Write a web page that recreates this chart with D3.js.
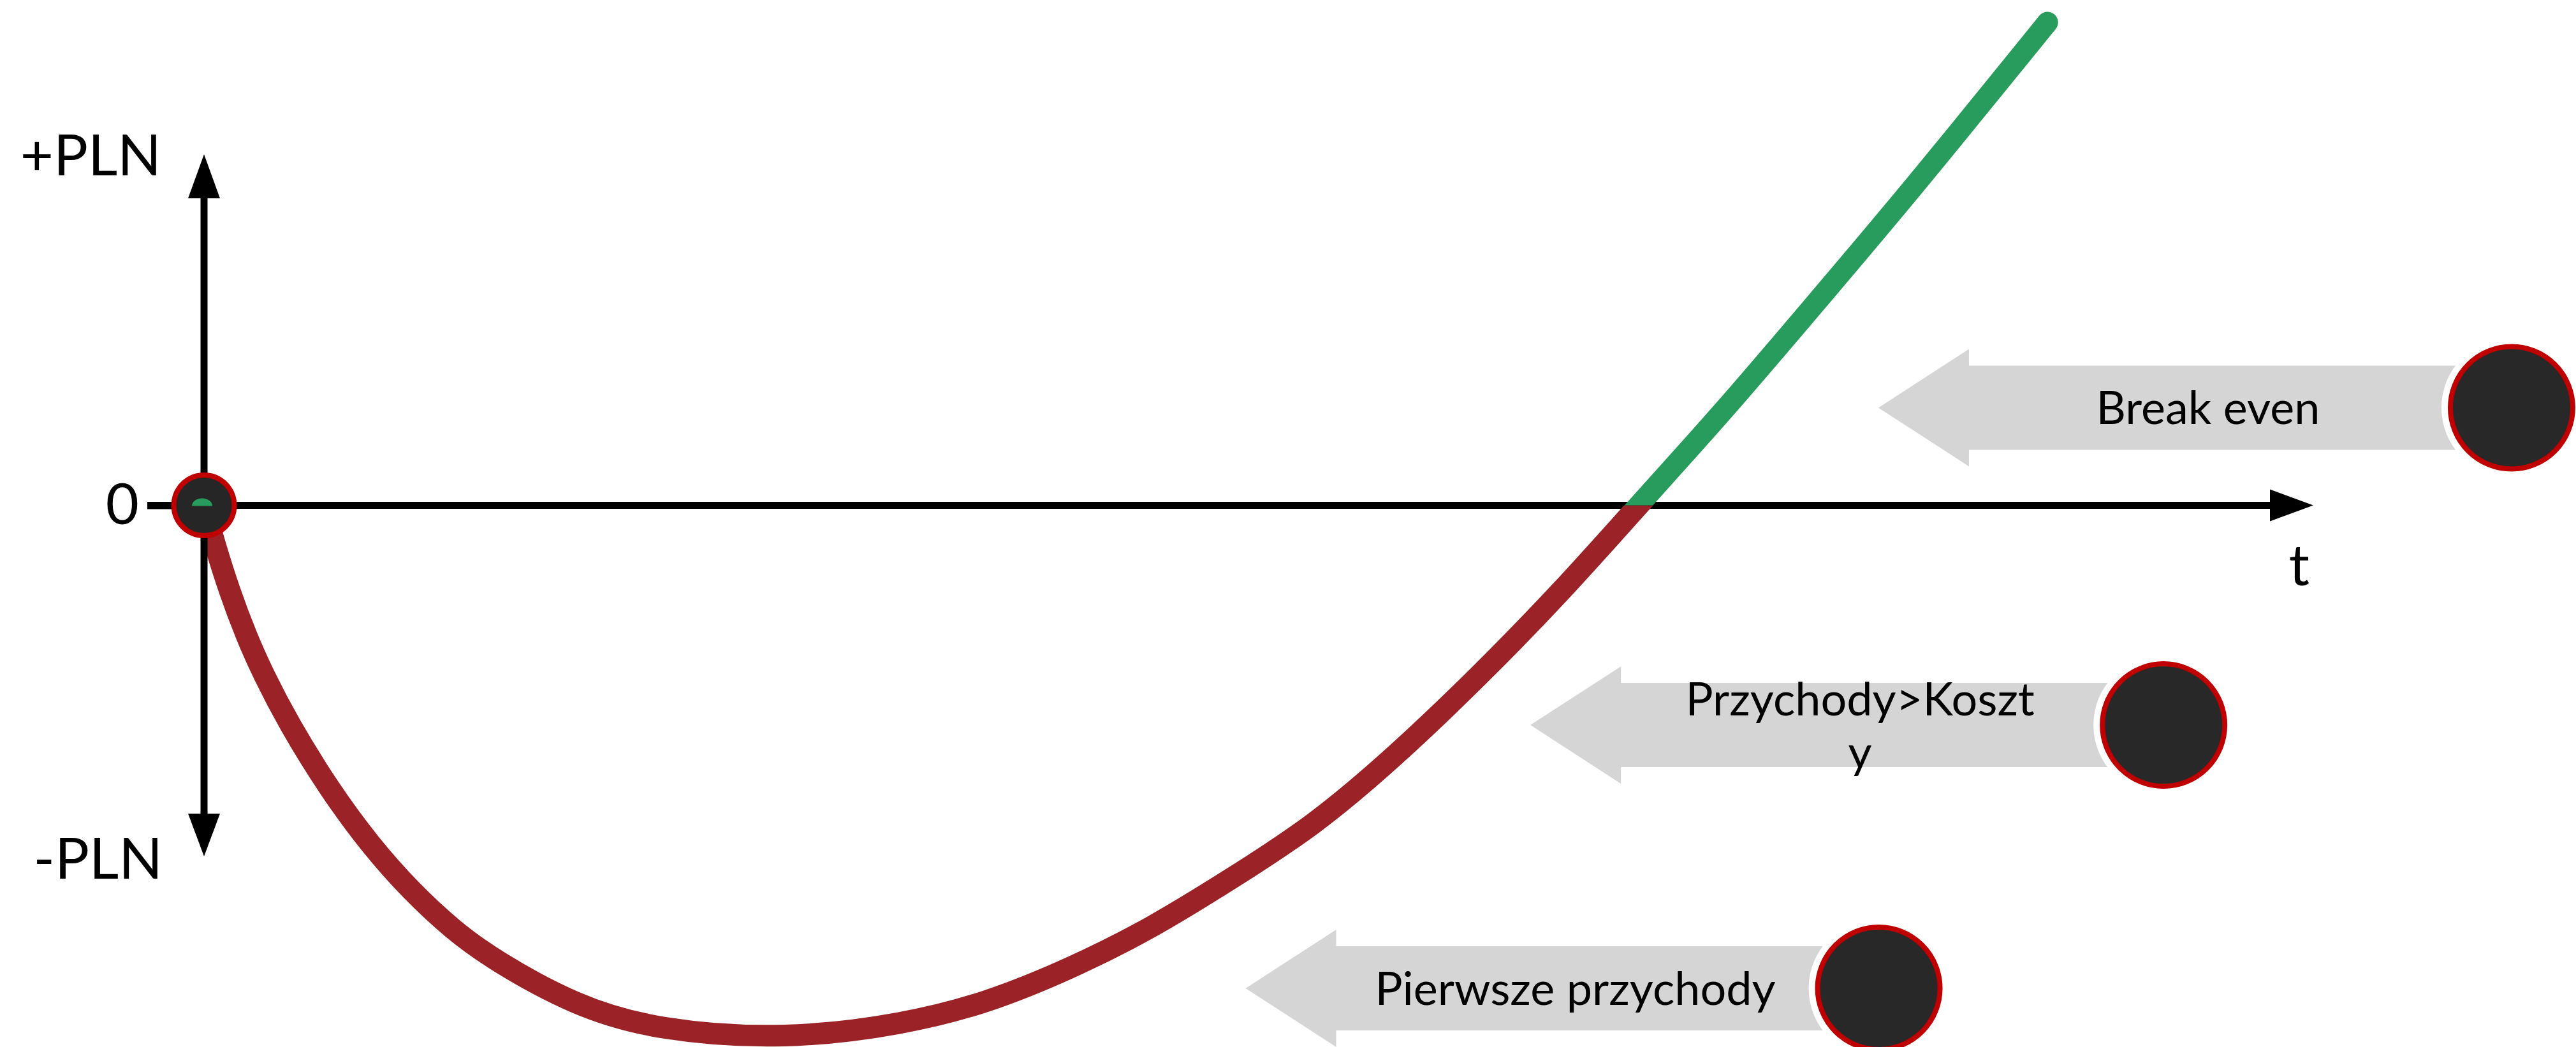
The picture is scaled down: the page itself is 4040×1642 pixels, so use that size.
<!DOCTYPE html>
<meta charset="utf-8">
<title>Break even</title>
<style>
    body { margin: 0; background: #fff; }
    text { font-family: Lato, "Open Sans", sans-serif; fill: #000; }
</style>
<body>
</body>

<script src="https://cdn.jsdelivr.net/npm/d3@7"></script>
<script>
    const width = 4040, height = 1642;

    // cumulative result over time, schematic units
    const tValues   = [0, 0.5, 1.2, 2.0, 2.8, 4.0, 5.9, 7.9, 9.8, 11.8, 13.7, 17.6, 21.5, 27.6, 33.2, 37.1, 41.0, 44.9, 48.7, 52.6, 56.5, 60.4, 64.3, 68.0, 72.0, 76.6, 80.9, 87.4];
    const plnValues = [0, -5.5, -12.2, -18.6, -24.0, -31.0, -40.3, -48.5, -54.9, -60.5, -64.7, -71.3, -74.8, -76.1, -73.9, -70.9, -66.1, -60.3, -53.2, -45.7, -35.7, -24.5, -12.5, 0, 13.2, 29.5, 44.7, 68.8];

    // milestone call-outs
    const milestoneLabels = [["Pierwsze przychody"], ["Przychody>Koszt", "y"], ["Break even"]];
    const milestoneT      = [79.4, 92.9, 109.4];
    const milestoneY      = [-68.8, -31.3, 13.9];

    const tickValues = [0];

    const red = "#9b2226", green = "#279c5c", ring = "#c00000", dark = "#282828", grey = "#d5d5d5";

    const x = d3.scaleLinear().domain([0, 100]).range([320, 3628]);
    const y = d3.scaleLinear().domain([-50, 50]).range([1343, 242]);

    const svg = d3.select("body").append("svg")
        .attr("width", width)
        .attr("height", height)
        .attr("viewBox", [0, 0, width, height]);

    const points = tValues.map((t, i) => [t, plnValues[i]]);
    const x0 = x(0), y0 = y(0);

    // clips: loss below the t axis, profit above
    const defs = svg.append("defs");
    defs.append("clipPath").attr("id", "above")
        .append("rect").attr("x", 0).attr("y", 0).attr("width", width).attr("height", y0);
    defs.append("clipPath").attr("id", "below")
        .append("rect").attr("x", 0).attr("y", y0).attr("width", width).attr("height", height - y0);

    // t axis
    svg.append("line")
        .attr("x1", x0 - 89).attr("x2", x(100) - 68)
        .attr("y1", y0).attr("y2", y0)
        .attr("stroke", "#000").attr("stroke-width", 11);
    svg.append("path")
        .attr("d", `M${x(100)},${y0}L${x(100) - 68},${y0 - 25}L${x(100) - 68},${y0 + 25}Z`)
        .attr("fill", "#000");

    const line = d3.line()
        .x(d => x(d[0]))
        .y(d => y(d[1]))
        .curve(d3.curveBasis);

    svg.append("path")
        .datum(points)
        .attr("clip-path", "url(#below)")
        .attr("d", line)
        .attr("fill", "none")
        .attr("stroke", red)
        .attr("stroke-width", 34)
        .attr("stroke-linecap", "round");

    svg.append("path")
        .datum(points)
        .attr("clip-path", "url(#above)")
        .attr("d", line)
        .attr("fill", "none")
        .attr("stroke", green)
        .attr("stroke-width", 33)
        .attr("stroke-linecap", "round");

    // PLN axis
    svg.append("line")
        .attr("x1", x0).attr("x2", x0)
        .attr("y1", y(50) + 68).attr("y2", y(-50) - 66)
        .attr("stroke", "#000").attr("stroke-width", 11);
    svg.append("path")
        .attr("d", `M${x0},${y(50)}L${x0 - 25},${y(50) + 69}L${x0 + 25},${y(50) + 69}Z`)
        .attr("fill", "#000");
    svg.append("path")
        .attr("d", `M${x0},${y(-50)}L${x0 - 25},${y(-50) - 67}L${x0 + 25},${y(-50) - 67}Z`)
        .attr("fill", "#000");

    const yAxis = svg.append("g")
        .attr("transform", `translate(${x0},0)`)
        .call(d3.axisLeft(y).tickValues(tickValues).tickSize(89).tickPadding(13));
    yAxis.select(".domain").remove();
    yAxis.selectAll(".tick line").attr("stroke", "#000").attr("stroke-width", 11);
    yAxis.selectAll(".tick text")
        .attr("font-family", "Lato, sans-serif")
        .attr("font-size", 90)
        .attr("fill", "#000");

    // origin marker
    svg.append("circle")
        .attr("cx", x0).attr("cy", y0).attr("r", 47.5)
        .attr("fill", "#262626").attr("stroke", ring).attr("stroke-width", 8);
    svg.append("path")
        .attr("d", `M${x0 - 19},${y0 + 1}A16,12 0 0 1 ${x0 + 13},${y0 + 1}Z`)
        .attr("fill", green);

    // axis labels
    svg.append("text")
        .attr("x", x0 - 67).attr("y", y(50) + 33)
        .attr("text-anchor", "end").attr("font-size", 90)
        .text("+PLN");
    svg.append("text")
        .attr("x", x0 - 65).attr("y", y(-50) + 35)
        .attr("text-anchor", "end").attr("font-size", 90)
        .text("-PLN");
    svg.append("text")
        .attr("x", x(100) - 22).attr("y", y0 + 125)
        .attr("text-anchor", "middle").attr("font-size", 90)
        .text("t");

    // call-outs
    const callout = svg.append("g")
        .selectAll("g")
        .data(milestoneLabels.map((lines, i) => ({lines, cx: x(milestoneT[i]), cy: y(milestoneY[i])})))
        .join("g");

    callout.append("path")
        .attr("d", d => {
            const tip = d.cx - 993, neck = d.cx - 851;
            return `M${tip},${d.cy}L${neck},${d.cy - 92}L${neck},${d.cy - 66}L${d.cx},${d.cy - 66}` +
                `L${d.cx},${d.cy + 66}L${neck},${d.cy + 66}L${neck},${d.cy + 92}Z`;
        })
        .attr("fill", grey);

    callout.append("circle")
        .attr("cx", d => d.cx).attr("cy", d => d.cy).attr("r", 110)
        .attr("fill", "#fff");

    callout.append("circle")
        .attr("cx", d => d.cx).attr("cy", d => d.cy).attr("r", 96)
        .attr("fill", dark).attr("stroke", ring).attr("stroke-width", 8);

    callout.append("text")
        .attr("text-anchor", "middle")
        .attr("font-size", 72)
        .selectAll("tspan")
        .data(d => d.lines.map((s, j) => ({s, j, n: d.lines.length, cx: d.cx, cy: d.cy})))
        .join("tspan")
        .attr("x", d => d.cx - 476)
        .attr("y", d => d.cy + 26 - (d.n - 1) * 83 / 2 + d.j * 83)
        .text(d => d.s);
</script>
